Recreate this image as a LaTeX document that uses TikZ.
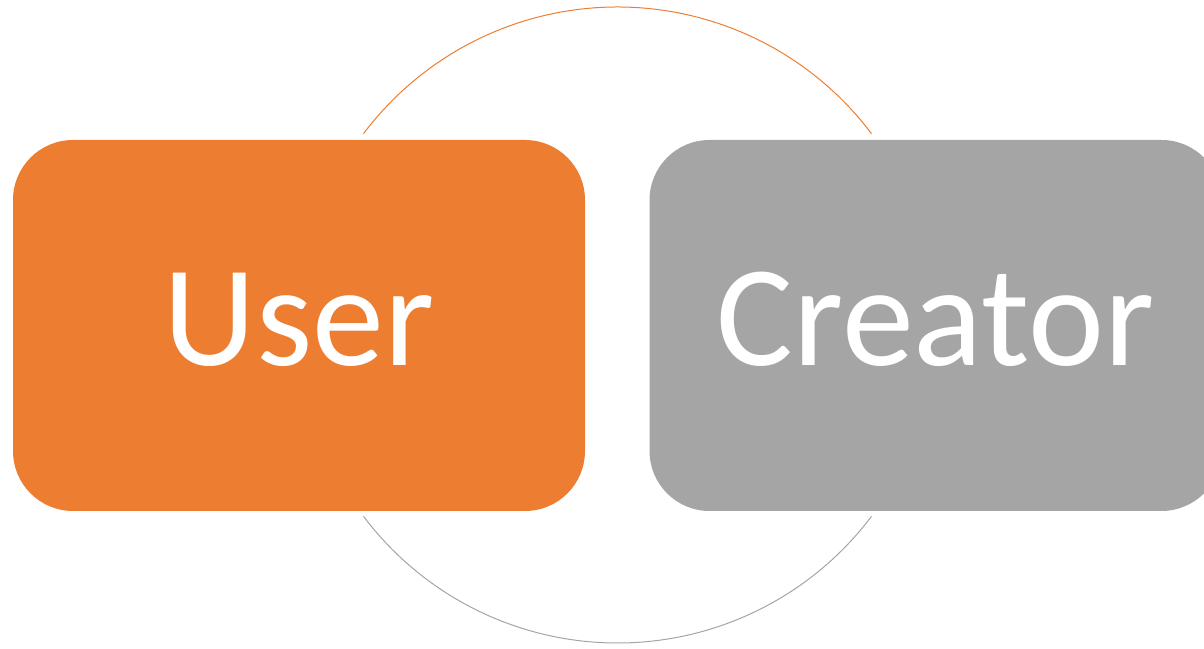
\documentclass[tikz,border=0pt]{standalone}
\usepackage{fontspec}
\setmainfont{Carlito}
\usetikzlibrary{positioning}
\definecolor{roleorange}{RGB}{237,125,49}
\definecolor{rolegray}{RGB}{165,165,165}

\begin{document}
\begin{tikzpicture}[x=0.75pt,y=0.75pt,
        role/.style={rectangle,rounded corners=45pt,minimum width=429pt,minimum height=278.25pt,
          inner sep=0pt,align=center,text=white,text height=65pt,text depth=4.25pt,
          font=\fontsize{108}{120}\selectfont},
        ring/.style={line width=0.75pt}]
        \clip (0,0) rectangle (1204,649);
        \coordinate (hub) at (617.5,324);
        \draw[ring,draw=roleorange] (hub) ++(37:318) arc[start angle=37,end angle=143,radius=318];
        \draw[ring,draw=rolegray] (hub) ++(217:318) arc[start angle=217,end angle=323,radius=318];
        \node[role,fill=roleorange] (user) at (299,323.5) {User};
        \node[role,fill=rolegray,right=48pt of user] (creator) {Creator};
      \end{tikzpicture}
\end{document}
